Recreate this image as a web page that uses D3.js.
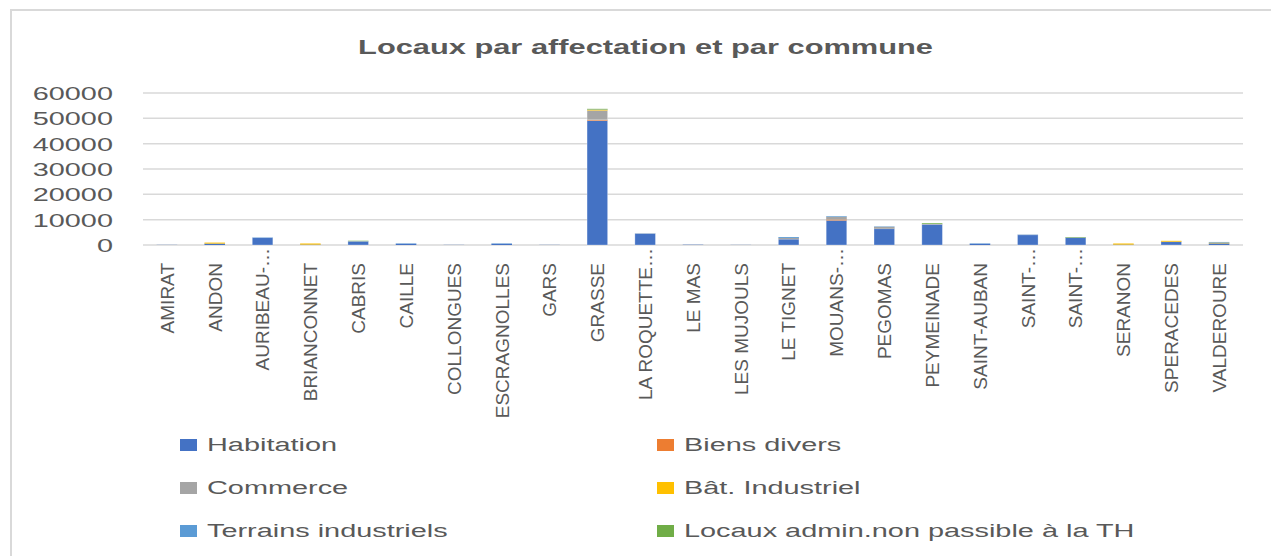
<!DOCTYPE html>
<html>
<head>
<meta charset="utf-8">
<script src="https://cdn.jsdelivr.net/npm/d3@7"></script>
<style>
  html, body { margin: 0; padding: 0; background: #fff; }
  svg { display: block; }
  text { font-family: "Liberation Sans", Arial, sans-serif; fill: #595959; }
</style>
</head>
<body>
<svg id="chart" width="1271" height="556"></svg>
<script>
const categories = ["AMIRAT","ANDON","AURIBEAU-…","BRIANCONNET","CABRIS","CAILLE","COLLONGUES","ESCRAGNOLLES","GARS","GRASSE","LA ROQUETTE…","LE MAS","LES MUJOULS","LE TIGNET","MOUANS-…","PEGOMAS","PEYMEINADE","SAINT-AUBAN","SAINT-…","SAINT-…","SERANON","SPERACEDES","VALDEROURE"];

const habitation   = [60, 550, 2900, 150, 1450, 500, 60, 500, 60, 49100, 4500, 120, 50, 2300, 9700, 6400, 8100, 500, 4000, 2900, 150, 1300, 650];
const biensDivers  = [0, 0, 0, 0, 0, 0, 0, 0, 0, 300, 0, 0, 0, 0, 350, 0, 0, 0, 0, 0, 0, 0, 0];
const commerce     = [0, 0, 0, 0, 80, 0, 0, 0, 0, 3700, 80, 0, 0, 500, 1100, 800, 200, 0, 60, 50, 0, 0, 0];
const batIndustriel= [0, 400, 0, 450, 0, 0, 0, 0, 0, 300, 0, 0, 0, 0, 0, 0, 0, 0, 0, 0, 450, 350, 300];
const terrainsInd  = [0, 0, 100, 0, 0, 150, 0, 150, 0, 100, 50, 0, 0, 350, 250, 150, 0, 150, 80, 0, 0, 0, 250];
const locauxAdmin  = [0, 0, 0, 0, 150, 0, 0, 0, 0, 250, 0, 0, 0, 0, 0, 0, 300, 0, 0, 200, 0, 0, 0];

const seriesNames = ["Habitation","Biens divers","Commerce","Bât. Industriel","Terrains industriels","Locaux admin.non passible à la TH"];
const seriesColors = ["#4472c4","#ed7d31","#a5a5a5","#ffc000","#5b9bd5","#70ad47"];
const yTicks = [0, 10000, 20000, 30000, 40000, 50000, 60000];
const title = "Locaux par affectation et par commune";

const seriesValues = [habitation, biensDivers, commerce, batIndustriel, terrainsInd, locauxAdmin];
const table = categories.map((c, i) => {
  const row = { idx: i, name: c };
  seriesNames.forEach((s, k) => row[s] = seriesValues[k][i]);
  return row;
});

const svg = d3.select("#chart");
const SX = 1.52; // horizontal stretch of the reference text

// chart frame
svg.append("rect").attr("x", 11).attr("y", 10).attr("width", 1300).attr("height", 600)
  .attr("fill", "none").attr("stroke", "#d9d9d9").attr("stroke-width", 2);

// title
svg.append("text")
  .attr("transform", `translate(645.5,54) scale(1.58,1)`)
  .attr("text-anchor", "middle")
  .style("font-weight", "bold").style("font-size", "19.5px")
  .text(title);

const x = d3.scaleBand().domain(d3.range(categories.length)).range([143, 1243])
  .paddingInner(0.57).paddingOuter(0.285);
const y = d3.scaleLinear().domain([0, 60000]).range([245, 93]);

// gridlines
svg.append("g").selectAll("line").data(yTicks).join("line")
  .attr("x1", 143).attr("x2", 1243)
  .attr("y1", d => y(d)).attr("y2", d => y(d))
  .attr("stroke", "#d9d9d9").attr("stroke-width", 1.5);

// y labels
svg.append("g").selectAll("text").data(yTicks).join("text")
  .attr("transform", d => `translate(113,${y(d)}) scale(${SX},1)`)
  .attr("text-anchor", "end").attr("dy", "0.36em")
  .style("font-size", "19px")
  .text(d => d);

// stacked bars
const stack = d3.stack().keys(seriesNames);
const stacked = stack(table);
svg.append("g").selectAll("g").data(stacked).join("g")
  .attr("fill", (d, k) => seriesColors[k])
  .selectAll("rect").data(d => d.filter(s => s[1] - s[0] > 0)).join("rect")
  .attr("x", d => x(d.data.idx))
  .attr("width", x.bandwidth())
  .attr("y", d => y(d[1]))
  .attr("height", d => Math.max(0, y(d[0]) - y(d[1])))
  .attr("stroke", "rgba(255,255,255,0.35)")
  .attr("stroke-width", d => (y(d[0]) - y(d[1])) > 3 ? 0.8 : 0);

// x labels (rotated)
svg.append("g").selectAll("text").data(categories).join("text")
  .attr("transform", (d, i) => {
    const cx = x(i) + x.bandwidth() / 2;
    const top = d.endsWith("…") ? 248 : 263;
    return `translate(${cx},${top}) rotate(-90)`;
  })
  .attr("text-anchor", "end").attr("dy", "0.36em")
  .style("font-size", "19px")
  .text(d => d);

// legend
const legendCols = [180, 657];
const legendRows = [451, 494, 537];
const leg = svg.append("g").selectAll("g").data(seriesNames).join("g")
  .attr("transform", (d, k) => `translate(${legendCols[k % 2]},${legendRows[Math.floor(k / 2)]})`);
leg.append("rect").attr("x", 0).attr("y", -12).attr("width", 17).attr("height", 12)
  .attr("fill", (d, k) => seriesColors[k]);
leg.append("text")
  .attr("transform", `translate(27,0) scale(${SX},1)`)
  .style("font-size", "19px")
  .text(d => d);
</script>
</body>
</html>
